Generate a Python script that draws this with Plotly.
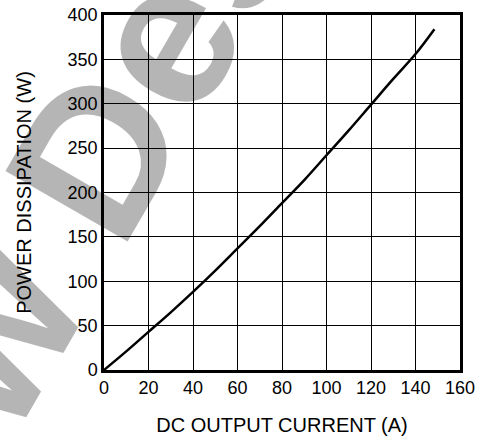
import plotly.graph_objects as go

# Data
current_a = [0, 10, 20, 30, 40, 50, 60, 70, 80, 90, 100, 110, 120, 130, 140, 148.5]
power_w = [0, 21, 43, 65, 88, 112, 137, 162, 188, 214, 242, 270, 299, 328, 356, 384]

x_ticks = [0, 20, 40, 60, 80, 100, 120, 140, 160]
y_ticks = [0, 50, 100, 150, 200, 250, 300, 350, 400]

x_title = "DC OUTPUT CURRENT (A)"
y_title = "POWER DISSIPATION (W)"
watermark = "New Designs"

FONT = "Liberation Sans, Arial, Helvetica, sans-serif"

fig = go.Figure()
fig.add_trace(go.Scatter(
    x=current_a, y=power_w, mode="lines",
    line=dict(color="black", width=2.5, shape="spline", smoothing=1.0),
    showlegend=False, hoverinfo="skip",
))

axis_common = dict(
    showgrid=True, gridcolor="black", gridwidth=1,
    showline=True, linecolor="black", linewidth=2.5, mirror=True,
    ticks="", zeroline=False, automargin=False,
    tickfont=dict(family=FONT, size=18, color="black"),
)

fig.update_xaxes(
    range=[0, 160], tickvals=x_ticks, ticktext=[str(v) for v in x_ticks],
    title=dict(text=x_title, font=dict(family=FONT, size=20, color="black"), standoff=21),
    **axis_common,
)
fig.update_yaxes(
    range=[0, 400], tickvals=y_ticks, ticktext=[str(v) for v in y_ticks],
    title=dict(text=y_title, font=dict(family=FONT, size=20, color="black"), standoff=31),
    **axis_common,
)

fig.add_annotation(
    text=watermark, xref="paper", yref="paper", x=0.098, y=0.817,
    xanchor="center", yanchor="middle", showarrow=False, textangle=-60,
    font=dict(family=FONT, size=205, color="rgba(0,0,0,0.29)", weight="bold"),
)

fig.update_layout(
    width=482, height=437,
    margin=dict(l=104, r=22, t=15, b=67),
    paper_bgcolor="white", plot_bgcolor="white",
    font=dict(family=FONT, color="black"),
)

fig.write_html(
    "out.html",
    config={"displayModeBar": False},
    post_script="document.body.style.margin='0';document.body.style.overflow='hidden';",
)
